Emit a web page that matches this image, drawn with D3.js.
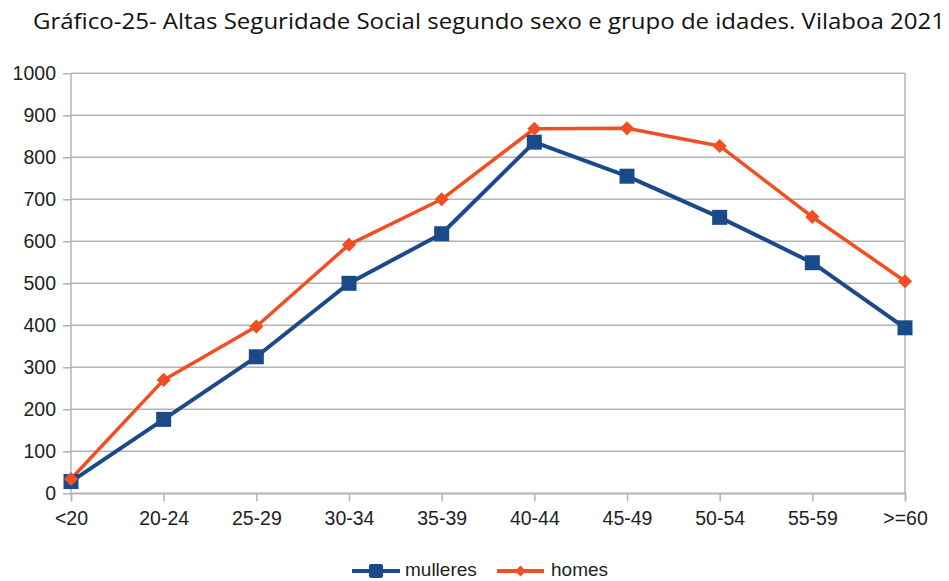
<!DOCTYPE html>
<html><head><meta charset="utf-8">
<script src="https://cdn.jsdelivr.net/npm/d3@7"></script>
<style>body{margin:0;background:#fff}svg{display:block}</style>
</head><body>
<svg id="c" width="949" height="581"></svg>
<script>
const categories = ["<20","20-24","25-29","30-34","35-39","40-44","45-49","50-54","55-59",">=60"];
const mulleres = [28,176,325,500,618,836,755,657,549,394];
const homes = [34,270,397,592,700,868,869,827,658,505];
const yTicks = [0,100,200,300,400,500,600,700,800,900,1000];
const seriesNames = ["mulleres","homes"];
const colors = ["#1b4a8b","#f24e23"];

(function(){
const svg = d3.select("#c");
const pL = 71, pR = 905, pT = 73.3, pB = 493.3;
const x = d3.scalePoint().domain(categories).range([pL, pR]).padding(0);
const y = d3.scaleLinear().domain([0,1000]).range([pB, pT]);
const lblFont = "Liberation Sans, Arial", lblSize = 19.5, lblColor = "#1e1e1e";

svg.append("text").attr("x", 33).attr("y", 29)
  .attr("font-family", "Open Sans").attr("font-size", 21).attr("fill", "#111")
  .attr("textLength", 912).attr("lengthAdjust", "spacingAndGlyphs")
  .text("Gráfico-25- Altas Seguridade Social segundo sexo e grupo de idades. Vilaboa 2021");

const yAxis = d3.axisLeft(y).tickValues(yTicks).tickFormat(d3.format("d")).tickSize(8).tickPadding(7);
const gy = svg.append("g").attr("transform", `translate(${pL},0)`).call(yAxis);
gy.select(".domain").remove();
gy.selectAll(".tick line").attr("stroke", "#b3b3b3").attr("stroke-width", 1.5);
gy.selectAll(".tick text").attr("font-family", lblFont).attr("font-size", lblSize).attr("fill", lblColor);
svg.append("g").selectAll("line").data(yTicks).join("line")
  .attr("x1", pL).attr("x2", pR).attr("y1", d => y(d)).attr("y2", d => y(d))
  .attr("stroke", "#b3b3b3").attr("stroke-width", 1.5);
svg.append("line").attr("x1", pL).attr("x2", pL).attr("y1", pT).attr("y2", pB).attr("stroke", "#b3b3b3").attr("stroke-width", 1.5);
svg.append("line").attr("x1", pR).attr("x2", pR).attr("y1", pT).attr("y2", pB).attr("stroke", "#b3b3b3").attr("stroke-width", 1.5);

const xAxis = d3.axisBottom(x).tickSize(8).tickPadding(10);
const gx = svg.append("g").attr("transform", `translate(0,${pB})`).call(xAxis);
gx.select(".domain").attr("stroke", "#b3b3b3").attr("stroke-width", 1.5);
gx.selectAll(".tick line").attr("stroke", "#b3b3b3").attr("stroke-width", 1.5);
gx.selectAll(".tick text").attr("font-family", lblFont).attr("font-size", lblSize).attr("fill", lblColor);

const line = d3.line().x((d,i) => x(categories[i])).y(d => y(d));
const data = [mulleres, homes];
data.forEach((vals, si) => {
  svg.append("path").datum(vals).attr("d", line).attr("fill", "none")
    .attr("stroke", colors[si]).attr("stroke-width", si===0 ? 4 : 3.5).attr("stroke-linejoin", "round");
});
svg.append("g").selectAll("rect").data(mulleres).join("rect")
  .attr("x", (d,i) => x(categories[i]) - 7.5).attr("y", d => y(d) - 7.5)
  .attr("width", 15).attr("height", 15).attr("fill", colors[0]);
svg.append("g").selectAll("path").data(homes).join("path")
  .attr("transform", (d,i) => `translate(${x(categories[i])},${y(d)}) rotate(45)`)
  .attr("d", d3.symbol().type(d3.symbolSquare).size(100)).attr("fill", colors[1]);

const legend = [{name: seriesNames[0], x1: 352, x2: 400, tx: 405}, {name: seriesNames[1], x1: 497, x2: 544, tx: 551}];
legend.forEach((l, i) => {
  const g = svg.append("g");
  const cx = (l.x1 + l.x2) / 2;
  g.append("line").attr("x1", l.x1).attr("x2", l.x2).attr("y1", 571).attr("y2", 571)
    .attr("stroke", colors[i]).attr("stroke-width", 4);
  if (i === 0) g.append("rect").attr("x", cx - 7).attr("y", 564).attr("width", 14).attr("height", 14).attr("rx", 2).attr("fill", colors[0]);
  else g.append("path").attr("transform", `translate(${cx},571) rotate(45)`).attr("d", d3.symbol().type(d3.symbolSquare).size(60)).attr("fill", colors[1]);
  g.append("text").attr("x", l.tx).attr("y", 576).attr("font-family", lblFont).attr("font-size", 19).attr("fill", lblColor).text(l.name);
});
})();
</script>
</body></html>
